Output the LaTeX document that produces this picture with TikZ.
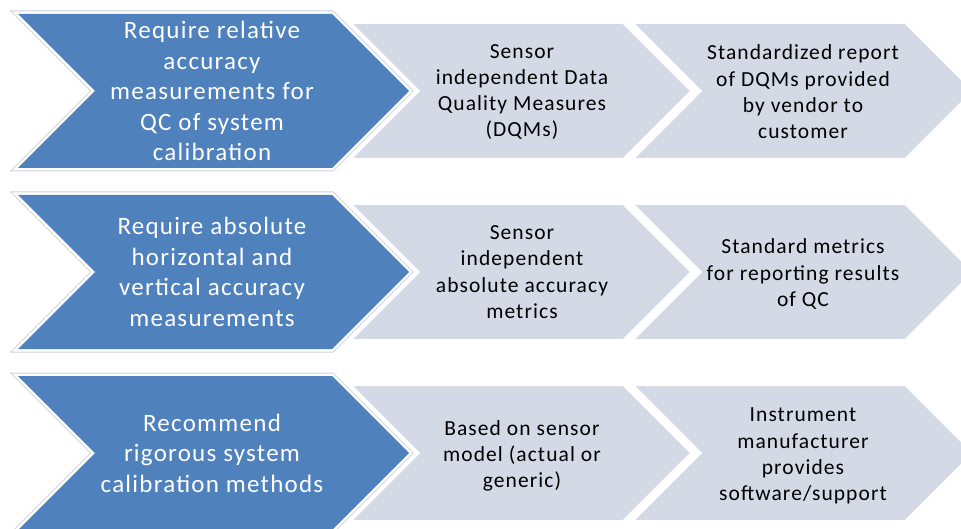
\documentclass[tikz,border=0pt]{standalone}
\usepackage{fontspec}
\setmainfont{Carlito}[LetterSpace=5]
\definecolor{stepblue}{HTML}{4F81BD}
\definecolor{steplight}{HTML}{D4D9E6}
\definecolor{rimgrey}{HTML}{CDD2DA}

% light chevron: left x, centre y
\newcommand\lightchev[2]{%
  \filldraw[fill=steplight, draw=white, line width=1pt]
    (#1,{#2-67.5}) -- ++(271,0) -- ++(67.5,67.5) -- ++(-67.5,67.5)
    -- ++(-271,0) -- ++(67.5,-67.5) -- cycle;}
% blue chevron with white rim and thin grey edge: centre y
\newcommand\bluechev[1]{%
  \def\bluepath{(18,{#1-77}) -- (332,{#1-77}) -- (409,#1) -- (332,{#1+77})
    -- (18,{#1+77}) -- (95,#1) -- cycle}%
  \draw[rimgrey, line width=7pt] \bluepath;
  \draw[white, line width=5pt] \bluepath;
  \fill[stepblue] \bluepath;}

\begin{document}
\begin{tikzpicture}[x=1pt, y=-1pt,
  mainlabel/.style={text=white, align=center, inner sep=0pt,
    font=\fontsize{25}{30.5}\selectfont},
  sublabel/.style={text=black, align=center, inner sep=0pt,
    font=\fontsize{21.5}{26.3}\selectfont}]
\useasboundingbox (0,0) rectangle (961,529);
\clip (0,0) rectangle (961,529);

% row 1
\lightchev{634}{91}
\lightchev{352}{91}
\bluechev{91}
\node[mainlabel] (r1main) at (212,91) {Require relative\\accuracy\\measurements for\\QC of system\\calibration};
\node[sublabel] (r1a) at (522,92) {Sensor\\independent Data\\Quality Measures\\(DQMs)};
\node[sublabel] (r1b) at (803,92) {Standardized report\\of DQMs provided\\by vendor to\\customer};

% row 2
\lightchev{634}{272}
\lightchev{352}{272}
\bluechev{272}
\node[mainlabel] (r2main) at (212,272) {Require absolute\\horizontal and\\vertical accuracy\\measurements};
\node[sublabel] (r2a) at (522,272) {Sensor\\independent\\absolute accuracy\\metrics};
\node[sublabel] (r2b) at (803,274) {Standard metrics\\for reporting results\\of QC};

% row 3
\lightchev{634}{453}
\lightchev{352}{453}
\bluechev{453}
\node[mainlabel] (r3main) at (212,453) {Recommend\\rigorous system\\calibration methods};
\node[sublabel] (r3a) at (522,456) {Based on sensor\\model (actual or\\generic)};
\node[sublabel] (r3b) at (803,456) {Instrument\\manufacturer\\provides\\software/support};
\end{tikzpicture}
\end{document}
